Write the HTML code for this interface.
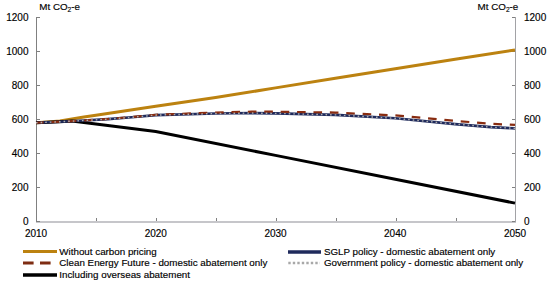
<!DOCTYPE html>
<html><head><meta charset="utf-8"><style>
html,body{margin:0;padding:0;background:#fff;}
svg{display:block;font-family:"Liberation Sans", sans-serif;font-size:10px;fill:#000;} text{stroke:#000;stroke-width:0.15px;}
</style></head><body>
<svg width="550" height="283" viewBox="0 0 550 283">
<rect x="36" y="221" width="480" height="2" fill="#c6c6ca"/>
<rect x="36" y="17" width="1" height="205" fill="#808080"/>
<rect x="515" y="17" width="1" height="205" fill="#a2a2a6"/>
<line x1="36" y1="221.5" x2="40" y2="221.5" stroke="#808080" stroke-width="1"/>
<line x1="512" y1="221.5" x2="515" y2="221.5" stroke="#808080" stroke-width="1"/>
<text x="28.5" y="224.6" text-anchor="end">0</text>
<text x="524" y="224.6">0</text>
<line x1="36" y1="187.5" x2="40" y2="187.5" stroke="#808080" stroke-width="1"/>
<line x1="512" y1="187.5" x2="515" y2="187.5" stroke="#808080" stroke-width="1"/>
<text x="28.5" y="190.6" text-anchor="end">200</text>
<text x="524" y="190.6">200</text>
<line x1="36" y1="153.5" x2="40" y2="153.5" stroke="#808080" stroke-width="1"/>
<line x1="512" y1="153.5" x2="515" y2="153.5" stroke="#808080" stroke-width="1"/>
<text x="28.5" y="156.6" text-anchor="end">400</text>
<text x="524" y="156.6">400</text>
<line x1="36" y1="119.5" x2="40" y2="119.5" stroke="#808080" stroke-width="1"/>
<line x1="512" y1="119.5" x2="515" y2="119.5" stroke="#808080" stroke-width="1"/>
<text x="28.5" y="122.6" text-anchor="end">600</text>
<text x="524" y="122.6">600</text>
<line x1="36" y1="85.5" x2="40" y2="85.5" stroke="#808080" stroke-width="1"/>
<line x1="512" y1="85.5" x2="515" y2="85.5" stroke="#808080" stroke-width="1"/>
<text x="28.5" y="88.6" text-anchor="end">800</text>
<text x="524" y="88.6">800</text>
<line x1="36" y1="51.5" x2="40" y2="51.5" stroke="#808080" stroke-width="1"/>
<line x1="512" y1="51.5" x2="515" y2="51.5" stroke="#808080" stroke-width="1"/>
<text x="28.5" y="54.6" text-anchor="end">1000</text>
<text x="524" y="54.6">1000</text>
<line x1="36" y1="17.5" x2="40" y2="17.5" stroke="#808080" stroke-width="1"/>
<line x1="512" y1="17.5" x2="515" y2="17.5" stroke="#808080" stroke-width="1"/>
<text x="28.5" y="20.6" text-anchor="end">1200</text>
<text x="524" y="20.6">1200</text>
<line x1="96.5" y1="218" x2="96.5" y2="221" stroke="#808080" stroke-width="1"/>
<line x1="156.5" y1="218" x2="156.5" y2="221" stroke="#808080" stroke-width="1"/>
<line x1="216.5" y1="218" x2="216.5" y2="221" stroke="#808080" stroke-width="1"/>
<line x1="276.5" y1="218" x2="276.5" y2="221" stroke="#808080" stroke-width="1"/>
<line x1="336.5" y1="218" x2="336.5" y2="221" stroke="#808080" stroke-width="1"/>
<line x1="396.5" y1="218" x2="396.5" y2="221" stroke="#808080" stroke-width="1"/>
<line x1="456.5" y1="218" x2="456.5" y2="221" stroke="#808080" stroke-width="1"/>
<text x="36.0" y="236.5" text-anchor="middle">2010</text>
<text x="155.8" y="236.5" text-anchor="middle">2020</text>
<text x="275.5" y="236.5" text-anchor="middle">2030</text>
<text x="395.2" y="236.5" text-anchor="middle">2040</text>
<text x="515.0" y="236.5" text-anchor="middle">2050</text>
<path d="M36.00,122.74 L47.98,121.89 L59.95,120.87 L71.92,119.00 L83.90,116.96 L95.88,115.26 L155.75,106.25 L215.62,97.58 L275.50,87.89 L335.38,78.20 L395.25,68.68 L455.12,59.33 L515.00,49.98" fill="none" stroke="#BC8210" stroke-width="3"/>
<path d="M36.00,122.74 L59.95,121.72 L71.92,121.04 L155.75,131.58 L275.50,155.38 L395.25,179.18 L515.00,203.15" fill="none" stroke="#000" stroke-width="3"/>
<path d="M36.00,122.74 L59.95,121.72 L83.90,120.53 L107.85,119.17 L131.80,117.30 L155.75,115.09 L215.62,113.56 L251.55,113.05 L275.50,113.39 L335.38,114.92 L395.25,118.32 L455.12,124.10 L491.05,127.16 L515.00,128.35" fill="none" stroke="#1F2A5C" stroke-width="2.6"/>
<path d="M36.00,122.74 L59.95,121.72 L83.90,120.53 L107.85,119.00 L131.80,116.96 L155.75,114.75 L215.62,112.54 L251.55,111.69 L275.50,111.69 L335.38,112.54 L395.25,115.43 L455.12,120.87 L491.05,123.76 L515.00,124.95" fill="none" stroke="#882C10" stroke-width="2.2" stroke-dasharray="8.6 7.8" stroke-dashoffset="1"/>
<path d="M36.00,122.74 L59.95,121.72 L83.90,120.53 L107.85,119.17 L131.80,117.30 L155.75,115.09 L215.62,113.56 L251.55,113.05 L275.50,113.39 L335.38,114.92 L395.25,118.32 L455.12,124.10 L491.05,127.16 L515.00,128.35" fill="none" stroke="#B0B0B0" stroke-width="1.4" stroke-dasharray="1.6 3"/>
<text x="39.3" y="10.2" font-size="9.8">Mt CO<tspan font-size="6.6" dy="2">2</tspan><tspan dy="-2">-e</tspan></text>
<text x="477.6" y="10.2" font-size="9.8">Mt CO<tspan font-size="6.6" dy="2">2</tspan><tspan dy="-2">-e</tspan></text>
<line x1="23" y1="251.5" x2="57" y2="251.5" stroke="#BC8210" stroke-width="3"/>
<text x="59.3" y="254.6" font-size="9.8">Without carbon pricing</text>
<line x1="23" y1="263" x2="57" y2="263" stroke="#7E2C12" stroke-width="3" stroke-dasharray="10.6 6.4"/>
<text x="59.3" y="266.2" font-size="9.8">Clean Energy Future - domestic abatement only</text>
<line x1="23" y1="275" x2="57" y2="275" stroke="#000" stroke-width="3.5"/>
<text x="59.3" y="277.7" font-size="9.8">Including overseas abatement</text>
<line x1="288" y1="252" x2="321" y2="252" stroke="#1F2A5C" stroke-width="3.5"/>
<text x="323.9" y="254.6" font-size="9.8">SGLP policy - domestic abatement only</text>
<line x1="288.3" y1="263" x2="320" y2="263" stroke="#A8A8A8" stroke-width="2.6" stroke-dasharray="2.4 2.1"/>
<text x="323.9" y="266.0" font-size="9.8">Government policy - domestic abatement only</text>
</svg>
</body></html>
